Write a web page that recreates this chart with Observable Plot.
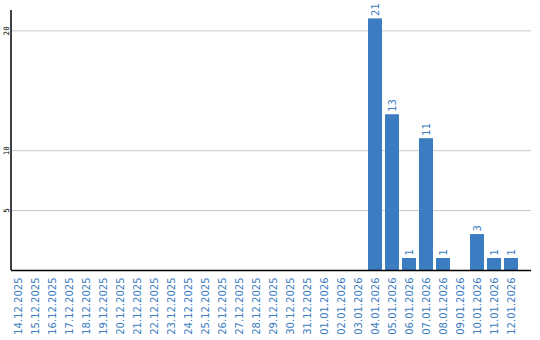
<!DOCTYPE html>
<html><head><meta charset="utf-8">
<script src="https://cdn.jsdelivr.net/npm/d3@7"></script>
<script src="https://cdn.jsdelivr.net/npm/@observablehq/plot@0.6"></script>
<style>body{margin:0;background:#fff}</style>
</head><body><div id="chart"></div>
<script>
const dates = ["14.12.2025","15.12.2025","16.12.2025","17.12.2025","18.12.2025","19.12.2025","20.12.2025","21.12.2025","22.12.2025","23.12.2025","24.12.2025","25.12.2025","26.12.2025","27.12.2025","28.12.2025","29.12.2025","30.12.2025","31.12.2025","01.01.2026","02.01.2026","03.01.2026","04.01.2026","05.01.2026","06.01.2026","07.01.2026","08.01.2026","09.01.2026","10.01.2026","11.01.2026","12.01.2026"];
const counts = [0,0,0,0,0,0,0,0,0,0,0,0,0,0,0,0,0,0,0,0,0,21,13,1,11,1,0,3,1,1];
const yTicks = [5,10,20];

const data = dates.map((d,i)=>({date:d, value:counts[i]}));
const labeled = data.filter(d=>d.value>0);
const blue = "#3b7dc0";

const leftAxisLine = (index, scales, values, dims) => {
  const l = d3.create("svg:line")
    .attr("x1", dims.marginLeft).attr("x2", dims.marginLeft)
    .attr("y1", dims.marginTop).attr("y2", dims.height - dims.marginBottom)
    .attr("stroke", "#000").attr("stroke-width", 1.5);
  return l.node();
};

const chart = Plot.plot({
  width: 540, height: 340,
  marginLeft: 11, marginRight: 9, marginTop: 10, marginBottom: 70,
  style: {fontFamily: "DejaVu Sans", background: "#fff"},
  x: {domain: dates, range: [9.5, 519.5], paddingInner: 0.18, paddingOuter: 0.09, axis: null},
  y: {domain: [0, 21.7], axis: null},
  marks: [
    Plot.ruleY(yTicks, {stroke: "#c8c8c8", strokeWidth: 1}),
    Plot.barY(data, {x: "date", y: "value", fill: blue}),
    Plot.text(labeled, {x: "date", y: "value", text: d => String(d.value), rotate: -90, textAnchor: "start", lineAnchor: "middle", dy: -3, fill: blue, fontSize: 10}),
    Plot.ruleY([0], {stroke: "#000", strokeWidth: 1.5}),
    leftAxisLine,
    Plot.text(yTicks, {y: d => d, text: d => String(d), frameAnchor: "left", dx: -3, rotate: -90, textAnchor: "middle", lineAnchor: "bottom", fill: "#000", fontSize: 7.5, fontFamily: "DejaVu Sans Mono"}),
    Plot.text(dates, {x: d => d, text: d => d, frameAnchor: "bottom", dy: 7, rotate: -90, textAnchor: "end", lineAnchor: "middle", fill: blue, fontSize: 10})
  ]
});
document.getElementById("chart").append(chart);
</script>
</body></html>
